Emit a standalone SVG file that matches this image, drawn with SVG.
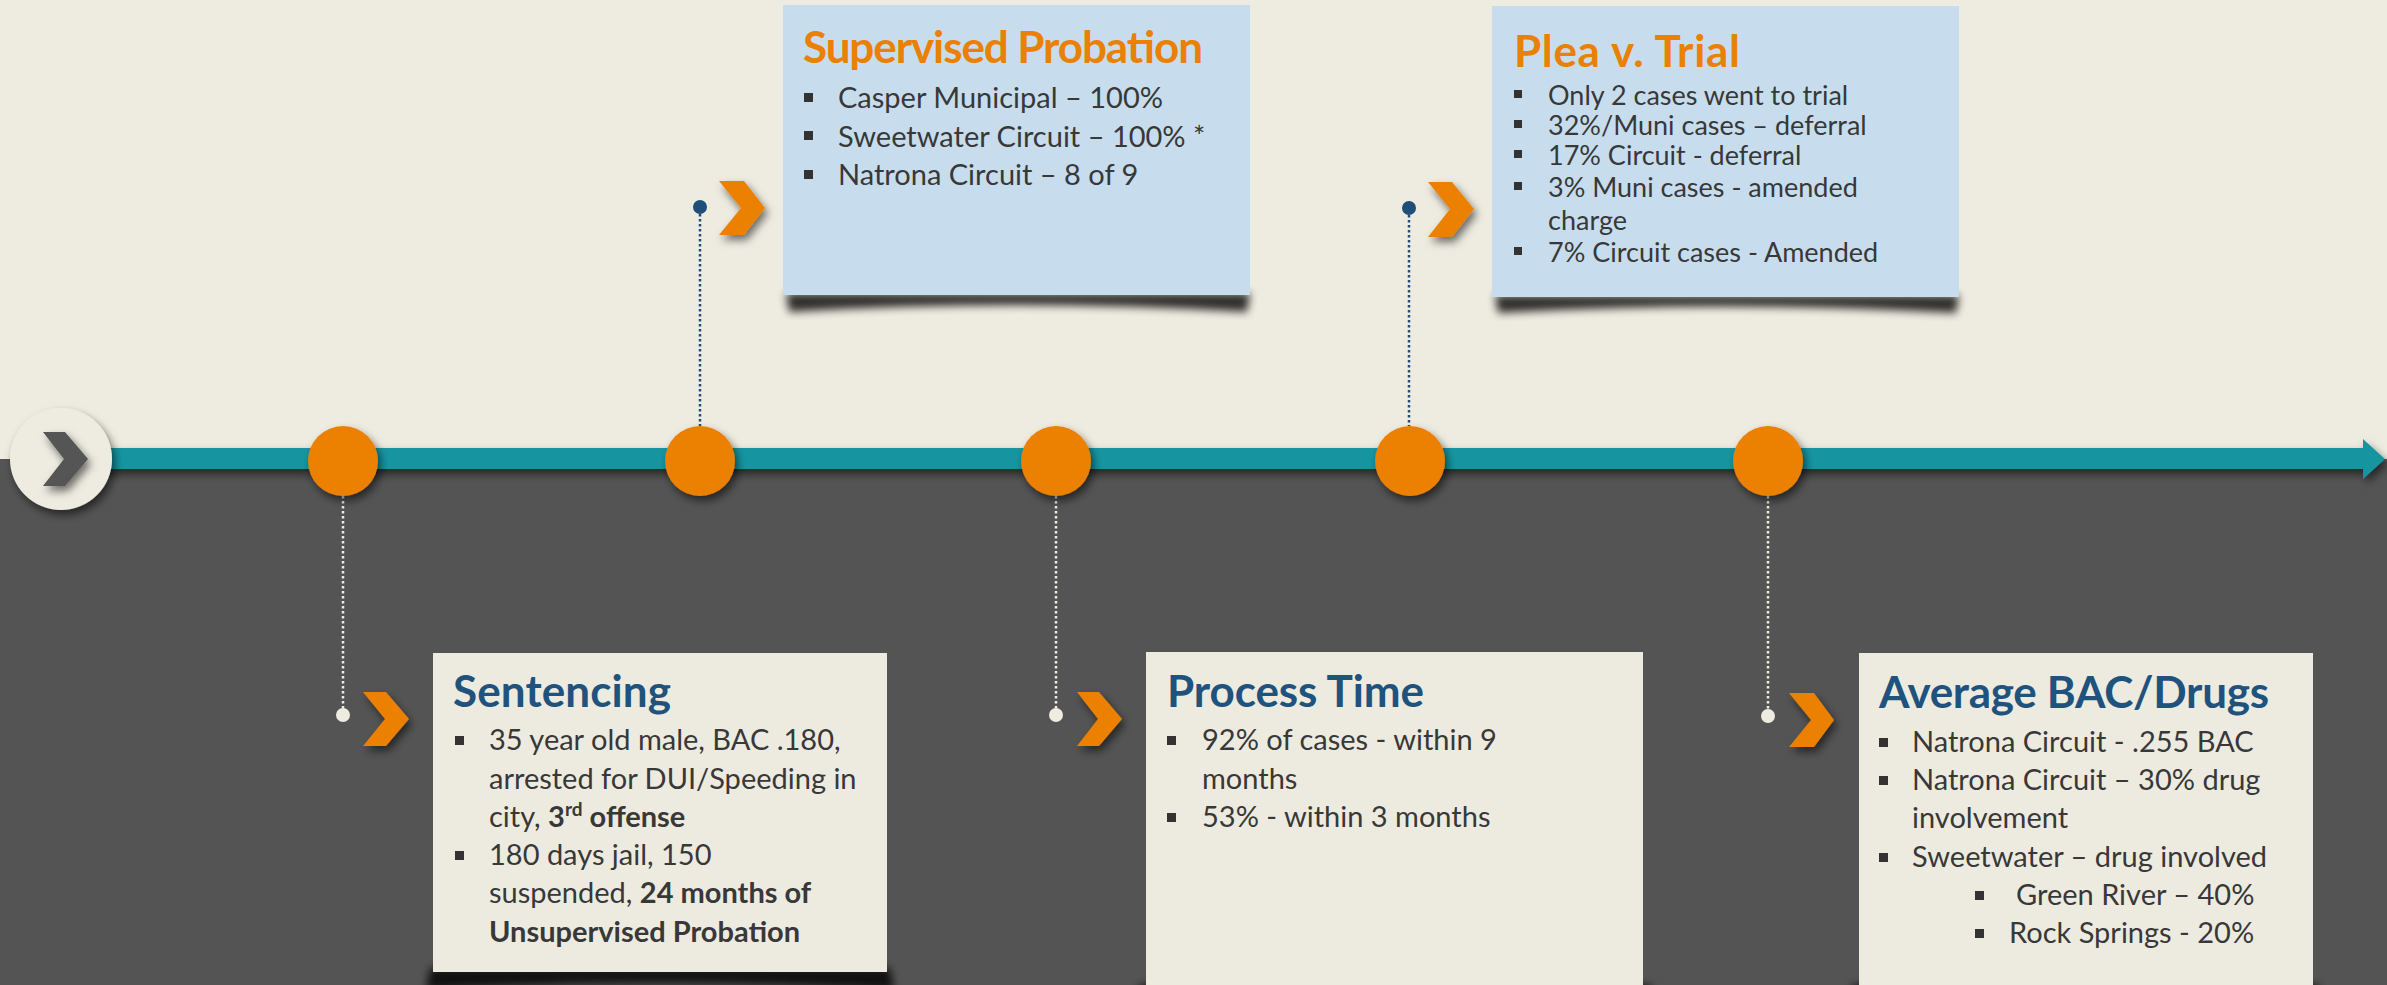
<svg xmlns="http://www.w3.org/2000/svg" width="2387" height="985" viewBox="0 0 2387 985">
<defs>
<filter id="sh" x="-30%" y="-30%" width="160%" height="160%">
<feGaussianBlur in="SourceAlpha" stdDeviation="4"/>
<feOffset dx="3" dy="5" result="b"/>
<feFlood flood-color="#000" flood-opacity="0.55"/>
<feComposite in2="b" operator="in"/>
<feMerge><feMergeNode/><feMergeNode in="SourceGraphic"/></feMerge>
</filter>
<filter id="blur" x="-10%" y="-50%" width="120%" height="200%">
<feGaussianBlur stdDeviation="4"/>
</filter>
<style>
.ttl{font-family:Lato,"Open Sans",sans-serif;font-weight:bold;font-size:44px}
.to{fill:#EA8104}
.tb{fill:#1F537D}
.bd{font-family:Lato,"Open Sans",sans-serif;font-size:29px;fill:#383838}
.bs{font-size:27px}
.b{font-weight:bold}
.sq{fill:#333}
.topbox{fill:#C7DDEE}
.botbox{fill:#EDEBE0}
.chev{fill:#EC8000}
.orb{fill:#EC8000}
.dn{stroke:#1F4E79;stroke-width:2.5;stroke-dasharray:2.5 2.5;fill:none}
.dw{stroke:#EEECE1;stroke-width:2.5;stroke-dasharray:2.5 2.5;fill:none}
</style>
</defs>
<rect x="0" y="0" width="2387" height="459" fill="#EEECE1"/>
<rect x="0" y="459" width="2387" height="526" fill="#545454"/>

<g id="timeline">
<g filter="url(#sh)">
<rect x="90" y="448" width="2275" height="21" fill="#1795A1"/>
<polygon points="2363,439 2385,459 2363,479" fill="#1795A1"/>
</g>
</g>

<g id="start">
<circle cx="61" cy="459" r="51" fill="#EEECE1" filter="url(#sh)"/>
<polygon points="43,432 65,432 88,459 65,486 43,486 64,459" fill="#545454" filter="url(#sh)"/>
</g>

<g id="connectors">
<line class="dw" x1="343" y1="496" x2="343" y2="713"/>
<circle cx="343" cy="715" r="7" fill="#EEECE1"/>
<line class="dn" x1="700" y1="209" x2="700" y2="426"/>
<circle cx="700" cy="207" r="7" fill="#1F4E79"/>
<line class="dw" x1="1056" y1="496" x2="1056" y2="713"/>
<circle cx="1056" cy="715" r="7" fill="#EEECE1"/>
<line class="dn" x1="1409" y1="210" x2="1409" y2="426"/>
<circle cx="1409" cy="208" r="7" fill="#1F4E79"/>
<line class="dw" x1="1768" y1="496" x2="1768" y2="714"/>
<circle cx="1768" cy="716" r="7" fill="#EEECE1"/>
</g>

<g id="milestones" filter="url(#sh)">
<circle class="orb" cx="343" cy="461" r="35"/>
<circle class="orb" cx="700" cy="461" r="35"/>
<circle class="orb" cx="1056" cy="461" r="35"/>
<circle class="orb" cx="1410" cy="461" r="35"/>
<circle class="orb" cx="1768" cy="461" r="35"/>
</g>

<g id="chevrons" filter="url(#sh)">
<polygon class="chev" points="719,181 744,181 765,208 744,235 719,235 741,208"/>
<polygon class="chev" points="1428,182 1452,182 1474,209 1452,237 1428,237 1450,209"/>
<polygon class="chev" points="363,692 386,692 409,719 386,746 363,746 385,719"/>
<polygon class="chev" points="1077,692 1099,692 1122,719 1099,746 1077,746 1098,719"/>
<polygon class="chev" points="1789,693 1814,693 1834,720 1814,747 1789,747 1811,720"/>
</g>

<g id="supervised">
<path d="M786,293 L1250,293 L1247,312 Q1018,298 789,312 Z" fill="#000" opacity="0.8" filter="url(#blur)"/>
<rect class="topbox" x="783" y="5" width="467" height="290"/>
<text class="ttl to" x="803" y="63" textLength="400">Supervised Probation</text>
<rect class="sq" x="804" y="93" width="9" height="9"/>
<rect class="sq" x="804" y="131" width="9" height="9"/>
<rect class="sq" x="804" y="170" width="9" height="9"/>
<text class="bd" x="838" y="108">Casper Municipal – 100%</text>
<text class="bd" x="838" y="147">Sweetwater Circuit – 100% *</text>
<text class="bd" x="838" y="185">Natrona Circuit – 8 of 9</text>
</g>

<g id="plea">
<path d="M1495,295 L1959,295 L1956,313 Q1726,300 1498,313 Z" fill="#000" opacity="0.8" filter="url(#blur)"/>
<rect class="topbox" x="1492" y="6" width="467" height="291"/>
<text class="ttl to" x="1514" y="67" textLength="226">Plea v. Trial</text>
<rect class="sq" x="1514" y="90" width="8" height="8"/>
<rect class="sq" x="1514" y="120" width="8" height="8"/>
<rect class="sq" x="1514" y="150" width="8" height="8"/>
<rect class="sq" x="1514" y="182" width="8" height="8"/>
<rect class="sq" x="1514" y="247" width="8" height="8"/>
<text class="bd bs" x="1548" y="105">Only 2 cases went to trial</text>
<text class="bd bs" x="1548" y="135">32%/Muni cases – deferral</text>
<text class="bd bs" x="1548" y="165">17% Circuit - deferral</text>
<text class="bd bs" x="1548" y="197">3% Muni cases - amended</text>
<text class="bd bs" x="1548" y="230">charge</text>
<text class="bd bs" x="1548" y="262">7% Circuit cases - Amended</text>
</g>

<g id="sentencing">
<path d="M430,968 L890,968 L894,990 Q660,976 426,990 Z" fill="#000" opacity="0.8" filter="url(#blur)"/>
<rect class="botbox" x="433" y="653" width="454" height="319"/>
<text class="ttl tb" x="453" y="707" textLength="218">Sentencing</text>
<rect class="sq" x="455" y="736" width="9" height="9"/>
<rect class="sq" x="455" y="851" width="9" height="9"/>
<text class="bd" x="489" y="750">35 year old male, BAC .180,</text>
<text class="bd" x="489" y="789">arrested for DUI/Speeding in</text>
<text class="bd" x="489" y="827">city, <tspan class="b">3</tspan><tspan class="b" font-size="19" dy="-11">rd</tspan><tspan class="b" dy="11"> offense</tspan></text>
<text class="bd" x="489" y="865">180 days jail, 150</text>
<text class="bd" x="489" y="903">suspended, <tspan class="b">24 months of</tspan></text>
<text class="bd b" x="489" y="942">Unsupervised Probation</text>
</g>

<g id="process">
<path d="M1140,985 L1650,985 L1654,1005 Q1395,990 1136,1005 Z" fill="#000" opacity="0.8" filter="url(#blur)"/>
<rect class="botbox" x="1146" y="652" width="497" height="340"/>
<text class="ttl tb" x="1167" y="707" textLength="257">Process Time</text>
<rect class="sq" x="1167" y="736" width="9" height="9"/>
<rect class="sq" x="1167" y="813" width="9" height="9"/>
<text class="bd" x="1202" y="750">92% of cases - within 9</text>
<text class="bd" x="1202" y="789">months</text>
<text class="bd" x="1202" y="827">53% - within 3 months</text>
</g>

<g id="average">
<path d="M1853,985 L2318,985 L2322,1005 Q2086,990 1849,1005 Z" fill="#000" opacity="0.8" filter="url(#blur)"/>
<rect class="botbox" x="1859" y="653" width="454" height="340"/>
<text class="ttl tb" x="1879" y="708" textLength="390">Average BAC/Drugs</text>
<rect class="sq" x="1879" y="738" width="9" height="9"/>
<rect class="sq" x="1879" y="776" width="9" height="9"/>
<rect class="sq" x="1879" y="853" width="9" height="9"/>
<rect class="sq" x="1975" y="891" width="9" height="9"/>
<rect class="sq" x="1975" y="929" width="9" height="9"/>
<text class="bd" x="1912" y="752">Natrona Circuit - .255 BAC</text>
<text class="bd" x="1912" y="790">Natrona Circuit – 30% drug</text>
<text class="bd" x="1912" y="828">involvement</text>
<text class="bd" x="1912" y="867">Sweetwater – drug involved</text>
<text class="bd" x="2016" y="905">Green River – 40%</text>
<text class="bd" x="2009" y="943">Rock Springs - 20%</text>
</g>
</svg>
